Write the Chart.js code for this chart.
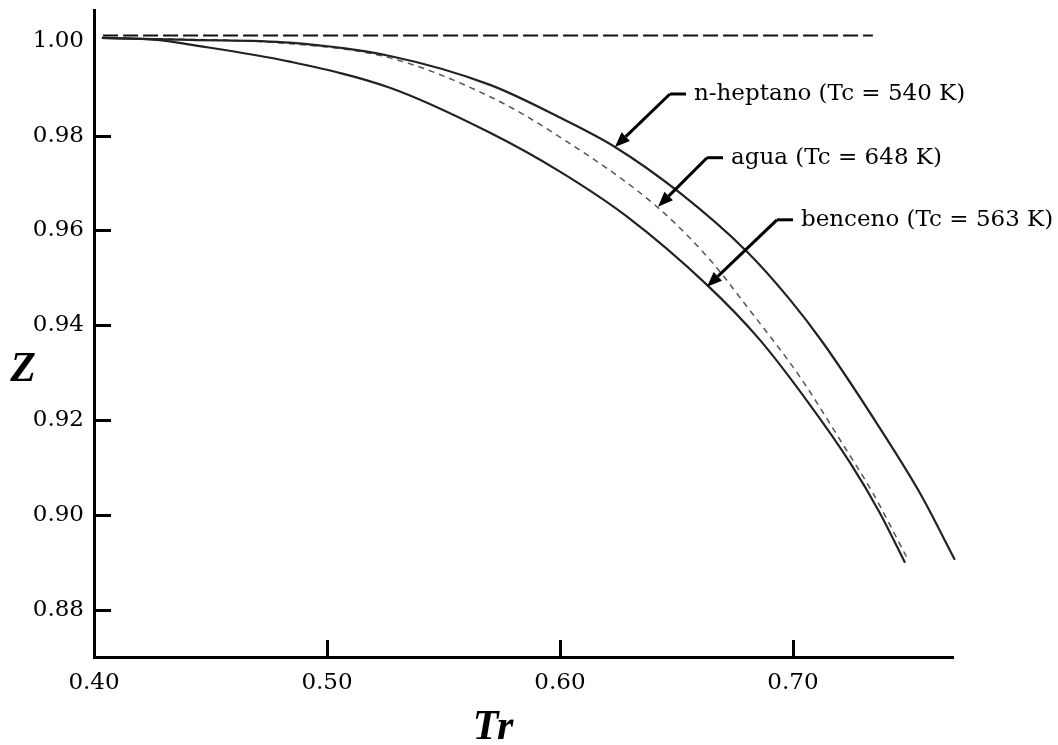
<!DOCTYPE html>
<html>
<head>
<meta charset="utf-8">
<title>Z vs Tr</title>
<script src="https://cdn.jsdelivr.net/npm/chart.js@4.4.1/dist/chart.umd.min.js"></script>
<style>
  body { margin: 0; background: #fff; }
  canvas { display: block; }
</style>
</head>
<body>
<canvas id="zChart" width="1058" height="745"></canvas>
<script>
// values (Tr, Z)
var heptanoTr = [0.4034, 0.4412, 0.4841, 0.5270, 0.5700, 0.6000, 0.6236, 0.6515, 0.6803, 0.6987, 0.7129, 0.7386, 0.7545, 0.7695];
var heptanoZ  = [1.0006, 1.0002, 0.9996, 0.9968, 0.9907, 0.9838, 0.9776, 0.9679, 0.9555, 0.9454, 0.9363, 0.9173, 0.9046, 0.8905];

var aguaTr = [0.4034, 0.4841, 0.5270, 0.5700, 0.6000, 0.6416, 0.6644, 0.6803, 0.7030, 0.7215, 0.7343, 0.7494];
var aguaZ  = [1.0006, 0.9994, 0.9964, 0.9882, 0.9797, 0.9650, 0.9538, 0.9439, 0.9291, 0.9148, 0.9046, 0.8905];

var bencenoTr = [0.4034, 0.4270, 0.4412, 0.4841, 0.5270, 0.5700, 0.6000, 0.6288, 0.6631, 0.6858, 0.7073, 0.7245, 0.7373, 0.7481];
var bencenoZ  = [1.0006, 1.0002, 0.9992, 0.9956, 0.9901, 0.9806, 0.9724, 0.9629, 0.9485, 0.9369, 0.9232, 0.9110, 0.9004, 0.8899];

// ideal gas reference line
var idealTr = [0.4039, 0.7343];
var idealZ  = [1.0011, 1.0011];

var xTicks = [0.40, 0.50, 0.60, 0.70];
var yTicks = [1.00, 0.98, 0.96, 0.94, 0.92, 0.90, 0.88];

// labels with the point on the curve where the arrow ends
var noteText = ["n-heptano (Tc = 540 K)", "agua (Tc = 648 K)", "benceno (Tc = 563 K)"];
var noteTr   = [0.6236, 0.6421, 0.6631];
var noteZ    = [0.9776, 0.9650, 0.9481];
// pixel offsets of the elbow from the arrow tip
var noteDx = [55, 49, 70];
var noteDy = [-53, -49, -67];

var serif = "'DejaVu Serif', serif";

function toPoints(xs, ys) {
  return xs.map(function (x, i) { return { x: x, y: ys[i] }; });
}

function drawArrow(ctx, x0, y0, x1, y1) {
  // line from (x0,y0) to the tip (x1,y1) with a filled head
  var ang = Math.atan2(y1 - y0, x1 - x0);
  var len = 15, half = 6;
  var bx = x1 - len * Math.cos(ang), by = y1 - len * Math.sin(ang);
  ctx.beginPath();
  ctx.moveTo(x0, y0);
  ctx.lineTo(bx, by);
  ctx.stroke();
  ctx.beginPath();
  ctx.moveTo(x1, y1);
  ctx.lineTo(bx + half * Math.sin(ang), by - half * Math.cos(ang));
  ctx.lineTo(bx - half * Math.sin(ang), by + half * Math.cos(ang));
  ctx.closePath();
  ctx.fill();
}

function noPadding(scale) {
  scale.paddingTop = 0;
  scale.paddingBottom = 0;
  scale.paddingLeft = 0;
  scale.paddingRight = 0;
}

var decorations = {
  id: "decorations",
  afterDatasetsDraw: function (chart) {
    var ctx = chart.ctx;
    var xs = chart.scales.x, ys = chart.scales.y;
    var area = chart.chartArea;
    ctx.save();
    ctx.strokeStyle = "#000";
    ctx.fillStyle = "#000";
    ctx.lineWidth = 3;
    ctx.lineCap = "butt";

    // inward tick marks
    yTicks.forEach(function (v) {
      if (v >= 1) return;
      var py = Math.round(ys.getPixelForValue(v)) + 0.5;
      ctx.beginPath();
      ctx.moveTo(area.left, py);
      ctx.lineTo(area.left + 17, py);
      ctx.stroke();
    });
    xTicks.forEach(function (v) {
      if (v <= 0.4) return;
      var px = Math.round(xs.getPixelForValue(v)) + 0.5;
      ctx.beginPath();
      ctx.moveTo(px, area.bottom);
      ctx.lineTo(px, area.bottom - 17);
      ctx.stroke();
    });

    // arrows and their labels
    ctx.font = "23px " + serif;
    ctx.textBaseline = "middle";
    ctx.textAlign = "left";
    noteText.forEach(function (t, i) {
      var tx = xs.getPixelForValue(noteTr[i]);
      var ty = ys.getPixelForValue(noteZ[i]);
      var ex = tx + noteDx[i], ey = ty + noteDy[i];
      ctx.lineWidth = 3;
      ctx.beginPath();
      ctx.moveTo(ex + 16, ey);
      ctx.lineTo(ex, ey);
      ctx.stroke();
      drawArrow(ctx, ex, ey, tx, ty);
      ctx.fillText(t, ex + 24, ey);
    });

    // axis titles, not rotated
    ctx.font = "bold italic 42px 'Liberation Serif', serif";
    ctx.textAlign = "center";
    ctx.fillText("Z", 23, 370);
    ctx.fillText("Tr", 493, 728);
    ctx.restore();
  }
};

var ctx = document.getElementById("zChart").getContext("2d");
var zChart = new Chart(ctx, {
  type: "line",
  data: {
    datasets: [
      {
        label: "ideal",
        data: toPoints(idealTr, idealZ),
        borderColor: "#111",
        borderWidth: 2,
        borderDash: [15, 5],
        pointRadius: 0
      },
      {
        label: "n-heptano",
        data: toPoints(heptanoTr, heptanoZ),
        borderColor: "#222",
        borderWidth: 2.2,
        cubicInterpolationMode: "monotone",
        pointRadius: 0
      },
      {
        label: "agua",
        data: toPoints(aguaTr, aguaZ),
        borderColor: "#555",
        borderWidth: 1.5,
        borderDash: [6, 5],
        cubicInterpolationMode: "monotone",
        pointRadius: 0
      },
      {
        label: "benceno",
        data: toPoints(bencenoTr, bencenoZ),
        borderColor: "#222",
        borderWidth: 2.2,
        cubicInterpolationMode: "monotone",
        pointRadius: 0
      }
    ]
  },
  options: {
    responsive: false,
    animation: false,
    devicePixelRatio: 1,
    clip: false,
    layout: { padding: { left: 0, top: 10, right: 105, bottom: 0 } },
    plugins: {
      legend: { display: false },
      tooltip: { enabled: false }
    },
    scales: {
      x: {
        type: "linear",
        min: 0.40,
        max: 0.7687,
        afterBuildTicks: function (scale) {
          scale.ticks = xTicks.map(function (v) { return { value: v }; });
        },
        afterFit: function (scale) { scale.height = 88; noPadding(scale); },
        grid: { display: false, drawTicks: false },
        border: { display: true, color: "#000", width: 3 },
        ticks: {
          color: "#000",
          padding: 12,
          maxRotation: 0,
          font: { family: serif, size: 23 },
          callback: function (v) { return Number(v).toFixed(2); }
        }
      },
      y: {
        type: "linear",
        min: 0.870,
        max: 1.0065,
        afterBuildTicks: function (scale) {
          scale.ticks = yTicks.map(function (v) { return { value: v }; });
        },
        afterFit: function (scale) { scale.width = 94; noPadding(scale); },
        grid: { display: false, drawTicks: false },
        border: { display: true, color: "#000", width: 3 },
        ticks: {
          color: "#000",
          padding: 10,
          font: { family: serif, size: 23 },
          callback: function (v) { return Number(v).toFixed(2); }
        }
      }
    }
  },
  plugins: [decorations]
});
</script>
</body>
</html>
